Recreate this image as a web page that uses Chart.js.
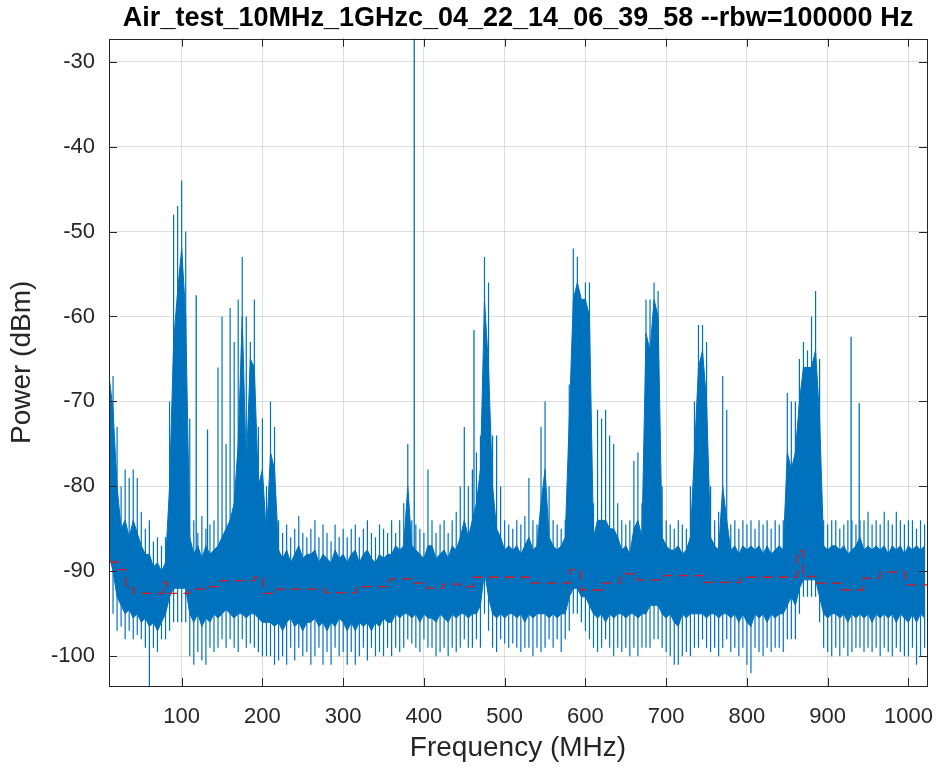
<!DOCTYPE html>
<html>
<head>
<meta charset="utf-8">
<script src="https://cdn.jsdelivr.net/npm/chart.js@4.4.0/dist/chart.umd.min.js"></script>
<style>
  html, body { margin: 0; padding: 0; background: #fff; }
</style>
</head>
<body>
<canvas id="myChart" width="942" height="773"></canvas>
<script>
'use strict'

// spectrum in 5 MHz bins, starting at 10 MHz
const binStart = 10;
const binStep = 5;

// highest spike tip in each bin (dBm)
const hiPeak = [
  -66, -67, -73, -80, -78, -79, -78, -79, -83, -85,
  -84, -86.5, -86, -87, -86, -70, -48, -47, -44, -50,
  -72, -84, -85.5, -83.5, -85, -84.5, -84, -66, -60, -75,
  -59, -63, -58, -53, -60, -63, -58, -73, -72, -80,
  -70, -73, -84, -85.5, -84.5, -86, -85, -83.5, -85.5, -86,
  -85, -84, -86, -84.5, -85.5, -86.5, -84.5, -86, -85, -86,
  -85, -84.5, -86, -85, -84, -85.5, -86, -84.5, -85, -85.5,
  -84, -85.5, -84, -82, -75, -84, -84.5, -85, -85.5, -78,
  -84, -85.5, -84.5, -84, -85.5, -84, -83, -80, -73, -80,
  -78, -76, -74, -53, -56, -74, -74, -80, -84, -84.5,
  -85, -84, -84.5, -83.5, -79, -84, -84.5, -73, -70, -80,
  -84, -84.5, -85, -84, -68, -52, -53, -58, -56, -56,
  -82, -71, -72, -71, -74, -75, -82, -84, -84.5, -84,
  -77, -76, -82, -58, -58, -56, -57, -80, -84, -84.5,
  -85, -84, -84.5, -85, -80, -70, -61, -61, -63, -80,
  -84, -83, -67, -71, -84.5, -84, -85, -84, -84.5, -84,
  -85, -84, -84.5, -84, -85, -84, -84.5, -84, -69, -70,
  -70, -65, -63, -64, -60, -57, -65, -84, -84.5, -84,
  -84, -85, -84.5, -84, -84, -84.5, -84, -84, -83, -84.5,
  -84, -84.5, -83, -84, -84.5, -83, -84, -84.5, -84, -84,
  -85, -84, -84.5
];

// top of the solid band in each bin
const bandTop = [
  -67, -71, -80, -85, -84, -86, -84, -85.5, -87, -88,
  -88, -89.5, -89, -90, -89, -80, -63, -57, -52, -60,
  -86, -88, -87, -88.5, -87, -88, -87.5, -87, -86, -85,
  -84, -82, -75, -60, -78, -65, -66, -80, -78, -86,
  -76, -78, -87.5, -88.5, -87.5, -89, -88, -87, -88.5, -88,
  -88, -87.5, -89, -88, -88.5, -89, -87.5, -88.5, -88, -89,
  -88, -87.5, -89, -88, -87.5, -88.5, -89, -88, -88.5, -88,
  -88, -87, -87.5, -87, -80, -87, -87.5, -88, -88.5, -87,
  -87, -88.5, -88, -87.5, -88.5, -87, -87.5, -86, -84, -86,
  -84, -82, -78, -58, -66, -80, -85, -86, -87.5, -87,
  -87.5, -87, -88, -87, -86, -87.5, -87, -82, -78, -86,
  -87, -87.5, -87, -86, -72, -58, -56, -58, -58, -60,
  -86, -84, -84, -84, -85, -85, -86, -87.5, -87, -88,
  -85, -84, -86, -62, -64, -58, -60, -86, -87, -87.5,
  -87.5, -87, -88, -87.5, -86, -76, -66, -64, -70, -86,
  -87, -87.5, -80, -84, -87.5, -87, -88, -87, -87.5, -87,
  -87.5, -87, -88, -87, -88, -87.5, -87, -87.5, -76, -78,
  -76, -70, -66, -66, -66, -64, -72, -87, -87.5, -87,
  -87, -87.5, -87, -88, -87.5, -87, -86, -87.5, -87, -87.5,
  -87, -87.5, -87, -88, -87, -87.5, -87, -88, -87, -87.5,
  -87, -87.5, -87
];

// bottom of the solid band in each bin
const bandBot = [
  -88, -90, -93, -94, -95, -94.5, -95.5, -95, -96, -95.5,
  -96.5, -96, -97, -96, -95, -93, -92, -92, -92, -92,
  -95, -96, -95, -96.5, -95.5, -96, -95, -95.5, -95, -94.5,
  -95, -95.5, -95, -95, -95.5, -95, -95, -95.5, -96, -96,
  -96, -96.5, -96, -97, -96, -95.5, -96.5, -96, -97, -96,
  -96, -95.5, -96.5, -96, -97, -96, -96.5, -95.5, -96, -97,
  -96, -97, -96, -96.5, -96, -97, -96, -96.5, -95.5, -96,
  -96, -95, -95.5, -95, -95, -95.5, -95, -96, -95, -95.5,
  -95.5, -96, -95, -95.5, -96, -95, -95.5, -95, -95, -95.5,
  -95, -95, -94, -90, -93, -95, -95.5, -95, -95.5, -95,
  -95, -95.5, -95, -96, -95, -95.5, -95, -95, -95, -95.5,
  -95, -95.5, -95, -95, -93, -92, -92, -93, -93, -94,
  -95, -95.5, -95, -96, -95, -95.5, -95, -95, -95.5, -95,
  -95, -95.5, -95, -95, -94, -94, -94, -95, -95.5, -95,
  -96, -96.5, -95, -95.5, -95, -95, -95, -95, -95.5, -95,
  -95, -95.5, -95, -95, -95.5, -95, -96, -95, -96, -96.5,
  -95, -95.5, -95, -96, -95, -95.5, -95, -95, -94, -93,
  -94, -92, -91, -91, -91, -91, -93, -95, -95.5, -95,
  -95, -95.5, -95, -96, -95, -95.5, -95, -95.5, -95, -96,
  -95, -95.5, -95, -95.5, -95, -96, -95, -95.5, -96, -95,
  -96, -95, -95.5
];

// lowest spike tip in each bin
const loPeak = [
  -92, -95, -97, -96.5, -98, -97, -98, -97.5, -98, -99,
  -104, -99, -99.5, -98, -98, -97, -96, -96, -96, -96,
  -100, -101, -99.5, -100.5, -101, -99, -99.5, -99, -98, -99,
  -98, -99, -99.5, -98, -99, -98.5, -99, -99.5, -100, -100,
  -100, -101, -100.5, -100, -101, -99, -100.5, -99, -100, -99.5,
  -101, -100, -99, -101, -99.5, -101, -99, -100, -99.5, -101,
  -99.5, -101, -100, -99, -100.5, -99, -100, -99.5, -100, -99,
  -100, -99, -99.5, -99, -98, -98.5, -99, -99.5, -98, -99,
  -99, -100, -99.5, -99, -100, -99, -99.5, -99, -98, -99,
  -99, -98, -99, -95, -97, -99, -99.5, -98, -98.5, -99,
  -98.5, -99, -99.5, -99, -99, -100, -99, -99.5, -99, -98,
  -99, -98, -99.5, -98, -97, -95, -95, -96, -97, -98,
  -99, -99.5, -99, -98, -99, -100, -99, -99.5, -99, -100,
  -99, -100, -99, -99, -99, -98, -98, -99, -99.5, -100,
  -101, -101, -100, -99.5, -100, -99, -99, -98, -99, -99.5,
  -99, -100, -99, -98, -99.5, -99, -100, -99, -101, -102,
  -99, -99.5, -100, -99, -99.5, -99, -99, -99.5, -98, -98,
  -98, -95, -93, -93, -93, -93, -96, -99, -99.5, -100,
  -99, -100, -99, -100, -99.5, -99, -99, -99.5, -99, -99.5,
  -99, -100, -99, -99.5, -100, -99, -99.5, -100, -100, -99,
  -101, -100, -99
];

// isolated narrow carriers
const spikeFreq = [10, 118, 132, 388, 462, 929, 939];
const spikeTop  = [-56.5, -57.5, -73.3, -20, -61.6, -62.4, -70.2];
const spikeBase = [-85, -88, -88, -92, -85, -92, -92];

// red dashed noise-floor estimate (step starts)
const stepFreq  = [10, 21, 31, 41, 77, 82, 110, 128, 148, 190, 201, 218, 278, 316, 358, 385, 404, 424, 445, 461,
                   531, 581, 594, 621, 643, 664, 697, 746, 792, 862, 869, 885, 916, 944, 965, 996, 1023];
const stepLevel = [-88.9, -89.8, -92.0, -92.6, -91.3, -92.6, -92.1, -91.8, -91.1, -90.7, -92.6, -92.1, -92.5, -91.8,
                   -90.9, -91.4, -92.0, -91.5, -91.8, -90.7, -91.4, -89.8, -92.2, -91.4, -90.3, -91.0, -90.5,
                   -91.3, -90.7, -87.6, -90.6, -91.4, -92.2, -90.8, -90.1, -91.6, -91.6];

const xTicks = [100, 200, 300, 400, 500, 600, 700, 800, 900, 1000];
const yTicks = [-100, -90, -80, -70, -60, -50, -40, -30];

const blue = '#0072BD';
const textColor = '#262626';

let binFreq = [];
for (let i = 0; i < hiPeak.length; i++) {
  binFreq.push(binStart + i * binStep);
}

let topPts = [];
let botPts = [];
let combPts = [];
for (let i = 0; i < binFreq.length; i++) {
  topPts.push({x: binFreq[i], y: bandTop[i]});
  botPts.push({x: binFreq[i], y: bandBot[i]});
  combPts.push({x: binFreq[i], y: loPeak[i]});
  combPts.push({x: binFreq[i], y: hiPeak[i]});
  combPts.push({x: binFreq[i], y: null});
}

let spikePts = [];
for (let i = 0; i < spikeFreq.length; i++) {
  spikePts.push({x: spikeFreq[i], y: spikeBase[i]});
  spikePts.push({x: spikeFreq[i], y: spikeTop[i]});
  spikePts.push({x: spikeFreq[i], y: null});
}

let stepPts = [];
for (let i = 0; i < stepFreq.length; i++) {
  stepPts.push({x: stepFreq[i], y: stepLevel[i]});
}

// box round the plot with inward ticks, matlab style
const framePlugin = {
  id: 'frame',
  afterDraw(chart) {
    const ctx = chart.ctx;
    const a = chart.chartArea;
    const xs = chart.scales.x;
    const ys = chart.scales.y;
    ctx.save();
    ctx.strokeStyle = textColor;
    ctx.lineWidth = 1;
    ctx.strokeRect(Math.round(a.left) + 0.5, Math.round(a.top) + 0.5,
      Math.round(a.right - a.left), Math.round(a.bottom - a.top));
    ctx.beginPath();
    xTicks.forEach(v => {
      const px = Math.round(xs.getPixelForValue(v)) + 0.5;
      ctx.moveTo(px, a.bottom); ctx.lineTo(px, a.bottom - 8);
      ctx.moveTo(px, a.top); ctx.lineTo(px, a.top + 8);
    });
    yTicks.forEach(v => {
      const py = Math.round(ys.getPixelForValue(v)) + 0.5;
      ctx.moveTo(a.left, py); ctx.lineTo(a.left + 8, py);
      ctx.moveTo(a.right, py); ctx.lineTo(a.right - 8, py);
    });
    ctx.stroke();
    ctx.restore();
  }
};

const config = {
  type: 'line',
  data: {
    datasets: [
      {
        label: 'floor',
        data: stepPts,
        stepped: 'before',
        borderColor: 'rgb(215,25,35)',
        borderWidth: 1.3,
        borderDash: [10, 6],
        pointRadius: 0,
        fill: false,
        order: 0
      },
      {
        label: 'spikes',
        data: spikePts,
        borderColor: blue,
        borderWidth: 1.3,
        pointRadius: 0,
        spanGaps: false,
        fill: false,
        order: 1
      },
      {
        label: 'comb',
        data: combPts,
        borderColor: blue,
        borderWidth: 1.2,
        pointRadius: 0,
        spanGaps: false,
        fill: false,
        order: 2
      },
      {
        label: 'bandTop',
        data: topPts,
        borderColor: blue,
        borderWidth: 1,
        backgroundColor: blue,
        pointRadius: 0,
        fill: '+1',
        order: 3
      },
      {
        label: 'bandBot',
        data: botPts,
        borderColor: blue,
        borderWidth: 1,
        pointRadius: 0,
        fill: false,
        order: 4
      }
    ]
  },
  options: {
    responsive: false,
    animation: false,
    devicePixelRatio: 1,
    layout: { padding: { left: 0, right: 15, top: 0, bottom: 0 } },
    plugins: {
      legend: { display: false },
      tooltip: { enabled: false },
      title: {
        display: true,
        fullSize: false,
        text: 'Air_test_10MHz_1GHzc_04_22_14_06_39_58 --rbw=100000 Hz',
        color: '#000',
        font: { family: 'Liberation Sans', size: 27, weight: 'bold', lineHeight: 1.2 },
        padding: { top: 2, bottom: 4.3 }
      }
    },
    scales: {
      x: {
        type: 'linear',
        min: 10,
        max: 1023,
        afterFit(scale) {
          scale.height = 87;
          scale.paddingLeft = 0;
          scale.paddingRight = 0;
        },
        afterBuildTicks(scale) { scale.ticks = xTicks.map(v => ({value: v})); },
        ticks: {
          font: { family: 'Liberation Sans', size: 22 },
          color: textColor,
          padding: 18,
          maxRotation: 0,
          autoSkip: false,
          callback: v => String(v)
        },
        grid: { color: 'rgba(0,0,0,0.13)', drawTicks: false },
        border: { display: false },
        title: {
          display: true,
          text: 'Frequency (MHz)',
          color: textColor,
          font: { family: 'Liberation Sans', size: 28, lineHeight: 1.2 },
          padding: { top: 0, bottom: 8 }
        }
      },
      y: {
        type: 'linear',
        min: -103.5,
        max: -27.3,
        afterFit(scale) {
          scale.width = 109;
          scale.paddingTop = 0;
          scale.paddingBottom = 0;
        },
        afterBuildTicks(scale) { scale.ticks = yTicks.map(v => ({value: v})); },
        ticks: {
          font: { family: 'Liberation Sans', size: 22 },
          color: textColor,
          padding: 14,
          callback: v => String(v)
        },
        grid: { color: 'rgba(0,0,0,0.13)', drawTicks: false },
        border: { display: false },
        title: {
          display: true,
          text: 'Power (dBm)',
          color: textColor,
          font: { family: 'Liberation Sans', size: 28, lineHeight: 1.2 },
          padding: { top: 5, bottom: 0 }
        }
      }
    }
  },
  plugins: [framePlugin]
};

let myChart = new Chart(document.getElementById('myChart'), config);
</script>
</body>
</html>
